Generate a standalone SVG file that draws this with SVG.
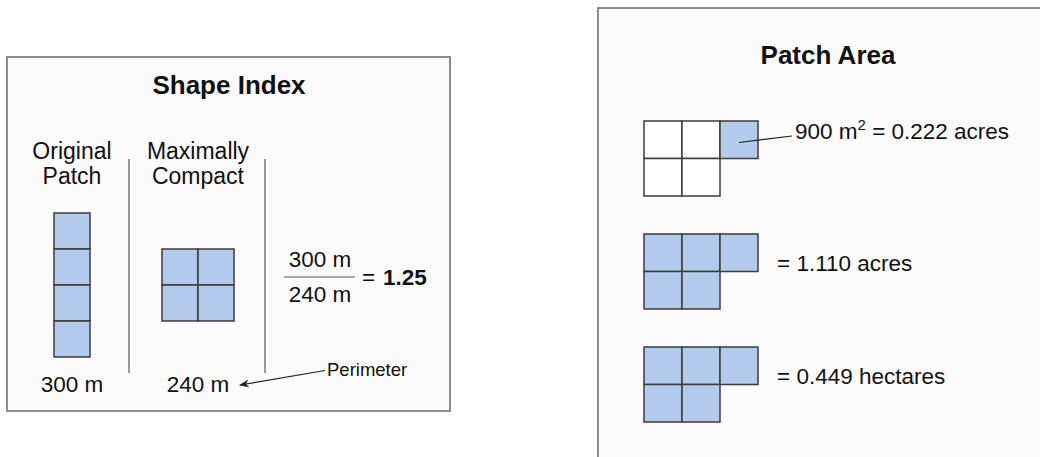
<svg xmlns="http://www.w3.org/2000/svg" width="1040" height="457" viewBox="0 0 1040 457">
<style>
.panel{fill:#fbfbfb;stroke:#8c8c8c;stroke-width:2}
.cell{fill:#b3caec;stroke:#3c3c3c;stroke-width:1.5}
.wcell{fill:#ffffff;stroke:#3c3c3c;stroke-width:1.5}
.sep{stroke:#777;stroke-width:1.5}
.t{font-family:"Liberation Sans",Arial,sans-serif;fill:#111}
.title{font-size:26px;font-weight:bold;text-anchor:middle}
.lbl{font-size:23px;text-anchor:middle}
.num{font-size:22.5px;text-anchor:middle}
.val{font-size:22.5px}
.small{font-size:18.5px}
.lead{stroke:#222;stroke-width:1.2;fill:none}
</style>
<defs>
<marker id="ah" markerWidth="10" markerHeight="8" refX="9" refY="4" orient="auto" markerUnits="userSpaceOnUse">
<path d="M0,0 L10,4 L0,8 L3,4 Z" fill="#222"/>
</marker>
</defs>

<g id="shape-index">
<rect class="panel" x="7" y="57" width="443" height="354"/>
<text class="t title" x="229" y="94">Shape Index</text>
<text class="t lbl" x="72" y="159">Original</text>
<text class="t lbl" x="72" y="184">Patch</text>
<text class="t lbl" x="198" y="159">Maximally</text>
<text class="t lbl" x="198" y="184">Compact</text>
<line class="sep" x1="129" y1="159" x2="129" y2="373"/>
<line class="sep" x1="265" y1="159" x2="265" y2="373"/>
</g>

<g id="original-patch">
<rect class="cell" x="54" y="213" width="36" height="36"/>
<rect class="cell" x="54" y="249" width="36" height="36"/>
<rect class="cell" x="54" y="285" width="36" height="36"/>
<rect class="cell" x="54" y="321" width="36" height="36"/>
<text class="t num" x="72" y="392">300 m</text>
</g>

<g id="compact-patch">
<rect class="cell" x="162" y="249" width="36" height="36"/>
<rect class="cell" x="198" y="249" width="36" height="36"/>
<rect class="cell" x="162" y="285" width="36" height="36"/>
<rect class="cell" x="198" y="285" width="36" height="36"/>
<text class="t num" x="198" y="392">240 m</text>
</g>

<g id="ratio">
<text class="t num" x="320" y="267">300 m</text>
<line x1="284" y1="277" x2="355" y2="277" stroke="#555" stroke-width="1.2"/>
<text class="t num" x="320" y="302">240 m</text>
<text class="t val" x="362" y="285">=</text>
<text class="t val" x="383" y="285" font-weight="bold" font-size="23">1.25</text>
</g>

<g id="perimeter-label">
<text class="t small" x="327" y="376">Perimeter</text>
</g>

<g id="patch-area">
<rect class="panel" x="598" y="8" width="460" height="470"/>
<text class="t title" x="828" y="64">Patch Area</text>
</g>

<g id="grid-1">
<rect class="wcell" x="644" y="121" width="38" height="37.5"/>
<rect class="wcell" x="682" y="121" width="38" height="37.5"/>
<rect class="cell" x="720" y="121" width="38" height="37.5"/>
<rect class="wcell" x="644" y="158.5" width="38" height="37.5"/>
<rect class="wcell" x="682" y="158.5" width="38" height="37.5"/>
<text class="t val" x="795" y="139">900 m<tspan font-size="15" dy="-9">2</tspan><tspan dy="9"> = 0.222 acres</tspan></text>
</g>

<g id="grid-2">
<rect class="cell" x="644" y="234" width="38" height="37.5"/>
<rect class="cell" x="682" y="234" width="38" height="37.5"/>
<rect class="cell" x="720" y="234" width="38" height="37.5"/>
<rect class="cell" x="644" y="271.5" width="38" height="37.5"/>
<rect class="cell" x="682" y="271.5" width="38" height="37.5"/>
<text class="t val" x="777" y="271">= 1.110 acres</text>
</g>

<g id="grid-3">
<rect class="cell" x="644" y="347" width="38" height="37.5"/>
<rect class="cell" x="682" y="347" width="38" height="37.5"/>
<rect class="cell" x="720" y="347" width="38" height="37.5"/>
<rect class="cell" x="644" y="384.5" width="38" height="37.5"/>
<rect class="cell" x="682" y="384.5" width="38" height="37.5"/>
<text class="t val" x="777" y="384">= 0.449 hectares</text>
</g>

<g id="connectors">
<line class="lead" x1="325" y1="370.5" x2="240" y2="385" marker-end="url(#ah)"/>
<line class="lead" x1="739" y1="142.5" x2="792" y2="136"/>
</g>
</svg>
